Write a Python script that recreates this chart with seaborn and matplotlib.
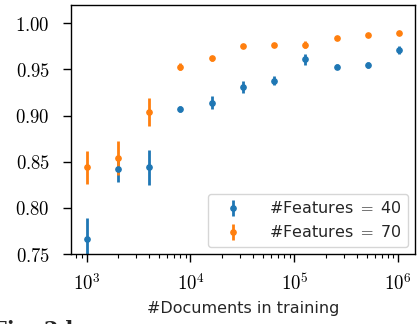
import numpy as np
import matplotlib
matplotlib.use("Agg")
import matplotlib.pyplot as plt
import matplotlib.ticker as mticker
import seaborn as sns

docs = [1000, 2000, 4000, 8000, 16000, 32000, 64000, 128000, 256000, 512000, 1024000]
acc_40 = [0.766, 0.842, 0.844, 0.907, 0.914, 0.931, 0.938, 0.961, 0.953, 0.955, 0.971]
err_40 = [0.023, 0.014, 0.019, 0.003, 0.007, 0.006, 0.005, 0.006, 0.003, 0.003, 0.004]
acc_70 = [0.844, 0.854, 0.904, 0.953, 0.962, 0.975, 0.976, 0.977, 0.984, 0.987, 0.989]
err_70 = [0.018, 0.018, 0.015, 0.004, 0.003, 0.001, 0.002, 0.004, 0.001, 0.001, 0.001]
labels = [r"#Features $=$ 40", r"#Features $=$ 70"]

sns.set_theme(style="ticks")
plt.rcParams["font.family"] = ["DejaVu Sans"]
plt.rcParams["mathtext.fontset"] = "cm"
plt.rcParams["axes.edgecolor"] = "black"
plt.rcParams["xtick.color"] = "black"
plt.rcParams["ytick.color"] = "black"

palette = sns.color_palette("tab10")

fig = plt.figure(figsize=(4.17, 3.24), dpi=100)
ax = fig.add_axes([0.170, 0.216, 0.825, 0.769])

for acc, err, lab, col in [(acc_40, err_40, labels[0], palette[0]),
                           (acc_70, err_70, labels[1], palette[1])]:
    ax.errorbar(docs, acc, yerr=err, fmt="o", color=col, markersize=3.8,
                elinewidth=2.0, capsize=0, label=lab)

ax.set_xscale("log")
ax.set_ylim(0.75, 1.02)
ax.set_yticks([0.75, 0.80, 0.85, 0.90, 0.95, 1.00])
ax.yaxis.set_major_formatter(mticker.FuncFormatter(lambda v, p: r"$%.2f$" % v))
ax.xaxis.set_major_formatter(mticker.FuncFormatter(
    lambda v, p: r"$10^{%d}$" % int(round(np.log10(v)))))
ax.tick_params(axis="both", which="major", labelsize=13.5, length=5.5, width=1.0,
               direction="out")
ax.tick_params(axis="y", which="major", pad=9.5)
ax.tick_params(axis="x", which="major", pad=8.5)
ax.tick_params(axis="x", which="minor", length=3, width=0.8, direction="out")
for s in ax.spines.values():
    s.set_linewidth(1.0)
    s.set_visible(True)

ax.set_xlabel("#Documents in training", fontsize=11.5, labelpad=5)
leg = ax.legend(loc="lower right", fontsize=11.5, frameon=True, fancybox=True,
                handlelength=2.4, handletextpad=1.0, borderaxespad=0.45)
leg.get_frame().set_edgecolor("#cccccc")

fig.text(-0.02, -0.05, "Fig. 2d", fontsize=15, fontweight="bold",
         family="DejaVu Serif", ha="left", va="bottom")

fig.savefig("out.png", dpi=100)
